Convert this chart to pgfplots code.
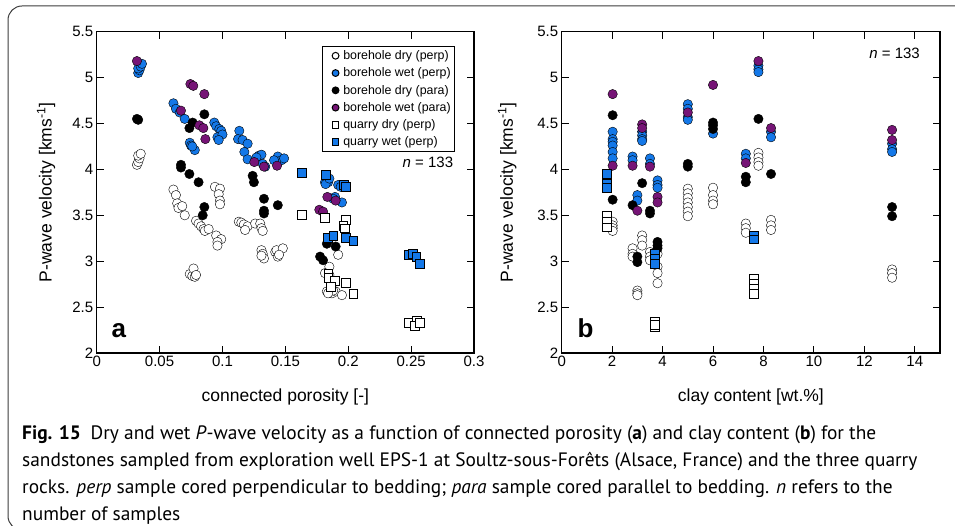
\documentclass[border=0pt]{standalone}
\usepackage{fontspec}
\setmainfont{Liberation Sans}
\newfontfamily\capfont{PT Sans}
\usepackage{pgfplots}
\pgfplotsset{compat=1.18}
\usepackage{pgfplotstable}

\definecolor{wetblue}{RGB}{20,120,232}
\definecolor{wetpurple}{RGB}{118,20,118}
\definecolor{boxgray}{RGB}{60,60,60}

\pgfplotstableread{
x y
0.032 4.05
0.033 4.08
0.034 4.12
0.033 4.15
0.035 4.17
0.061 3.78
0.063 3.72
0.064 3.63
0.065 3.58
0.068 3.60
0.070 3.50
0.079 3.44
0.081 3.41
0.083 3.38
0.085 3.35
0.086 3.33
0.089 3.35
0.074 2.86
0.076 2.84
0.077 2.92
0.078 2.83
0.079 2.85
0.094 3.81
0.098 3.79
0.097 3.73
0.098 3.66
0.098 3.62
0.095 3.28
0.099 3.24
0.096 3.21
0.096 3.17
0.113 3.43
0.115 3.42
0.117 3.40
0.120 3.38
0.118 3.34
0.126 3.41
0.130 3.41
0.131 3.36
0.132 3.33
0.131 3.12
0.132 3.08
0.133 3.03
0.131 3.06
0.142 3.10
0.143 3.12
0.148 3.14
0.144 3.05
0.145 3.07
0.185 2.94
0.1815 2.87
0.183 2.67
0.187 2.65
0.190 2.67
0.195 2.63
0.192 3.07
0.188 2.68
0.184 2.65
0.185 2.85
}\bdpA
\pgfplotstableread{
x y
0.033 5.05
0.034 5.08
0.033 5.10
0.035 5.12
0.036 5.15
0.061 4.72
0.063 4.66
0.066 4.62
0.070 4.55
0.074 4.29
0.075 4.26
0.078 4.21
0.076 4.25
0.0935 4.51
0.095 4.47
0.0975 4.44
0.099 4.42
0.096 4.35
0.100 4.38
0.097 4.32
0.1134 4.42
0.1124 4.33
0.116 4.32
0.120 4.28
0.1174 4.19
0.120 4.11
0.129 4.15
0.131 4.16
0.127 4.13
0.132 4.06
0.134 4.03
0.144 4.14
0.147 4.10
0.141 4.10
0.149 4.12
0.1815 3.86
0.184 3.86
0.182 3.84
0.185 3.90
0.1895 3.70
0.195 3.64
0.192 3.83
0.194 3.81
0.188 3.68
}\bwpA
\pgfplotstableread{
x y
0.032 4.55
0.033 4.54
0.0856 4.60
0.0763 4.51
0.0737 4.45
0.067 4.05
0.067 4.02
0.0737 3.95
0.081 3.86
0.124 3.93
0.125 3.86
0.133 3.68
0.0856 3.59
0.0843 3.50
0.133 3.55
0.133 3.52
0.144 3.61
0.1776 3.05
0.180 3.01
0.183 3.19
0.190 3.16
}\bdqA
\pgfplotstableread{
x y
0.032 5.18
0.0745 4.93
0.0768 4.91
0.0856 4.82
0.067 4.64
0.0816 4.48
0.0848 4.45
0.0864 4.33
0.1253 4.08
0.133 4.03
0.1434 4.04
0.1834 3.70
0.190 3.66
0.177 3.56
0.180 3.54
}\bwqA
\pgfplotstableread{
x y
0.163 3.51
0.1815 3.47
0.198 3.45
0.196 3.39
0.197 3.36
0.184 2.87
0.184 2.82
0.189 2.79
0.186 2.72
0.198 2.77
0.204 2.65
0.248 2.33
0.2544 2.35
0.253 2.30
0.257 2.33
}\qdA
\pgfplotstableread{
x y
0.163 3.96
0.1823 3.94
0.1966 3.83
0.198 3.81
0.1834 3.26
0.188 3.28
0.198 3.26
0.204 3.22
0.248 3.07
0.2512 3.08
0.254 3.05
0.2566 2.97
}\qwA

\pgfplotstableread{
x y
2.02 3.43
2.02 3.39
2.02 3.36
2.02 3.33
2.81 3.14
2.81 3.08
2.81 3.05
3.0 2.68
3.0 2.65
3.0 2.63
3.19 3.28
3.19 3.23
3.19 3.17
3.5 3.10
3.5 3.05
3.5 3.01
3.8 3.08
3.8 2.94
3.8 2.87
3.8 2.76
5.0 3.79
5.0 3.74
5.0 3.69
5.0 3.64
5.0 3.59
5.0 3.54
5.0 3.49
6.0 3.80
6.0 3.72
6.0 3.66
6.0 3.62
7.3 3.41
7.3 3.36
7.3 3.31
7.8 4.18
7.8 4.13
7.8 4.08
7.8 4.04
8.3 3.45
8.3 3.39
8.3 3.34
13.1 2.91
13.1 2.87
13.1 2.82
}\bdpB
\pgfplotstableread{
x y
2.02 4.41
2.02 4.33
2.02 4.30
2.02 4.26
2.02 4.19
2.02 4.12
2.81 4.14
2.81 4.10
3.0 3.72
3.0 3.66
3.19 4.41
3.19 4.37
3.19 4.33
3.19 4.31
3.5 4.12
3.5 4.06
3.8 3.88
3.8 3.83
3.8 3.80
5.0 4.71
5.0 4.66
5.0 4.57
5.0 4.54
6.0 4.39
7.3 4.17
7.3 4.12
7.8 5.13
7.8 5.09
7.8 5.06
8.3 4.41
8.3 4.35
13.1 4.28
13.1 4.22
13.1 4.19
}\bwpB
\pgfplotstableread{
x y
2.02 4.59
2.02 3.67
2.81 3.61
3.0 3.05
3.0 2.99
3.19 3.85
3.5 3.55
3.5 3.52
3.8 3.21
3.8 3.17
3.8 3.14
5.0 4.06
5.0 4.03
6.0 4.51
6.0 4.48
6.0 4.44
7.3 3.92
7.3 3.86
7.8 4.55
8.3 3.95
13.1 3.59
13.1 3.49
}\bdqB
\pgfplotstableread{
x y
2.02 4.82
2.02 4.04
2.81 4.04
3.0 3.55
3.19 4.49
3.19 4.45
3.5 4.03
3.8 3.70
3.8 3.64
5.0 4.62
6.0 4.92
7.3 4.07
7.8 5.18
8.3 4.45
13.1 4.43
13.1 4.32
}\bwqB
\pgfplotstableread{
x y
1.78 3.50
1.78 3.43
1.78 3.37
3.7 2.34
3.7 2.29
3.7 2.31
7.6 2.81
7.6 2.76
7.6 2.70
7.6 2.65
}\qdB
\pgfplotstableread{
x y
1.78 3.95
1.78 3.84
1.78 3.80
3.7 3.08
3.7 3.03
3.7 2.97
7.6 3.28
7.6 3.24
}\qwB

\pgfplotsset{
  myaxis/.style={
    scale only axis, height=321.3pt,
    ymin=2, ymax=5.5,
    ytick={2,2.5,3,3.5,4,4.5,5,5.5},
    yticklabels={2,2.5,3,3.5,4,4.5,5,5.5},
    axis line style={line width=1.3pt},
    tick style={line width=1pt, black},
    major tick length=7pt,
    tick align=inside,
    ticklabel style={font=\fontsize{15}{17}\selectfont},
    /pgf/number format/assume math mode=true,
    label style={font=\fontsize{17.5}{20}\selectfont},
    ylabel={P-wave velocity [kms\textsuperscript{-1}]},
    xlabel style={at={(axis description cs:0.5,-0.137)}, anchor=center},
    clip=false,
  },
  mk/.style={only marks, mark size=4.7pt, mark options={draw=black, line width=0.9pt},
    legend image code/.code={\path (-4pt,0pt) (12pt,0pt); \draw[##1,mark size=3.4pt] plot coordinates {(6pt,0pt)};}},
  bdp/.style={mk, mark=*, mark options={fill=white}},
  bwp/.style={mk, mark=*, mark options={fill=wetblue}},
  bdq/.style={mk, mark=*, mark options={fill=black}},
  bwq/.style={mk, mark=*, mark options={fill=wetpurple}},
  qd/.style={mk, mark=square*, mark size=4.4pt, mark options={fill=white}},
  qw/.style={mk, mark=square*, mark size=4.4pt, mark options={fill=wetblue}},
}

\begin{document}
\begin{tikzpicture}
\path[use as bounding box] (0pt,0pt) rectangle (955pt,526pt);
\begin{scope}
\clip (0pt,0pt) rectangle (955pt,526pt);
\draw[boxgray, line width=1pt, rounded corners=14pt] (8pt,-4pt) rectangle (975pt,520pt);
\end{scope}

\begin{axis}[myaxis,
  at={(96.7pt,173pt)}, anchor=south west,
  width=377.3pt,
  xmin=0, xmax=0.3,
  xtick={0,0.05,0.1,0.15,0.2,0.25,0.3},
  xticklabels={0,0.05,0.1,0.15,0.2,0.25,0.3},
  xlabel={connected porosity [-]},
  ylabel style={at={(axis description cs:-0.134,0.5)}, anchor=center},
  legend style={at={(axis description cs:0.596,0.956)}, anchor=north west,
    draw=black, line width=1pt, inner xsep=3pt, inner ysep=3pt,
    font=\fontsize{12.4}{14}\selectfont, row sep=4.4pt,
    nodes={inner sep=1.2pt}, cells={anchor=west}},
]
\addplot[bdp] table {\bdpA};
\addlegendentry{borehole dry (perp)}
\addplot[bwp] table {\bwpA};
\addlegendentry{borehole wet (perp)}
\addplot[bdq] table {\bdqA};
\addlegendentry{borehole dry (para)}
\addplot[bwq] table {\bwqA};
\addlegendentry{borehole wet (para)}
\addplot[qd] table {\qdA};
\addlegendentry{quarry dry (perp)}
\addplot[qw] table {\qwA};
\addlegendentry{quarry wet (perp)}
\node[anchor=east, font=\fontsize{15}{17}\selectfont] at (axis description cs:0.954,0.592) {\textit{n} = 133};
\node[anchor=base west, font=\fontsize{26}{28}\selectfont\bfseries] at (axis description cs:0.03,0.0467) {a};
\end{axis}

\begin{axis}[myaxis,
  at={(561.7pt,173pt)}, anchor=south west,
  width=378.3pt,
  xmin=0, xmax=15,
  xtick={0,2,4,6,8,10,12,14},
  xticklabels={0,2,4,6,8,10,12,14},
  xlabel={clay content [wt.\%]},
  ylabel style={at={(axis description cs:-0.144,0.5)}, anchor=center},
]
\addplot[bdp] table {\bdpB};
\addplot[bwp] table {\bwpB};
\addplot[bdq] table {\bdqB};
\addplot[bwq] table {\bwqB};
\addplot[qd] table {\qdB};
\addplot[qw] table {\qwB};
\node[anchor=east, font=\fontsize{15}{17}\selectfont] at (axis description cs:0.956,0.934) {\textit{n} = 133};
\node[anchor=base west, font=\fontsize{26}{28}\selectfont\bfseries] at (axis description cs:0.0325,0.0467) {b};
\end{axis}

\node[anchor=base west, align=left, inner sep=0pt, font=\capfont\fontsize{19.4}{27.2}\selectfont] at (22pt,5pt)
{\textbf{Fig. 15}\enspace Dry and wet \textit{P}-wave velocity as a function of connected porosity (\textbf{a}) and clay content (\textbf{b}) for the\\
sandstones sampled from exploration well EPS-1 at Soultz-sous-Forêts (Alsace, France) and the three quarry\\
rocks. \textit{perp} sample cored perpendicular to bedding; \textit{para} sample cored parallel to bedding. \textit{n} refers to the\\
number of samples};
\end{tikzpicture}
\end{document}
